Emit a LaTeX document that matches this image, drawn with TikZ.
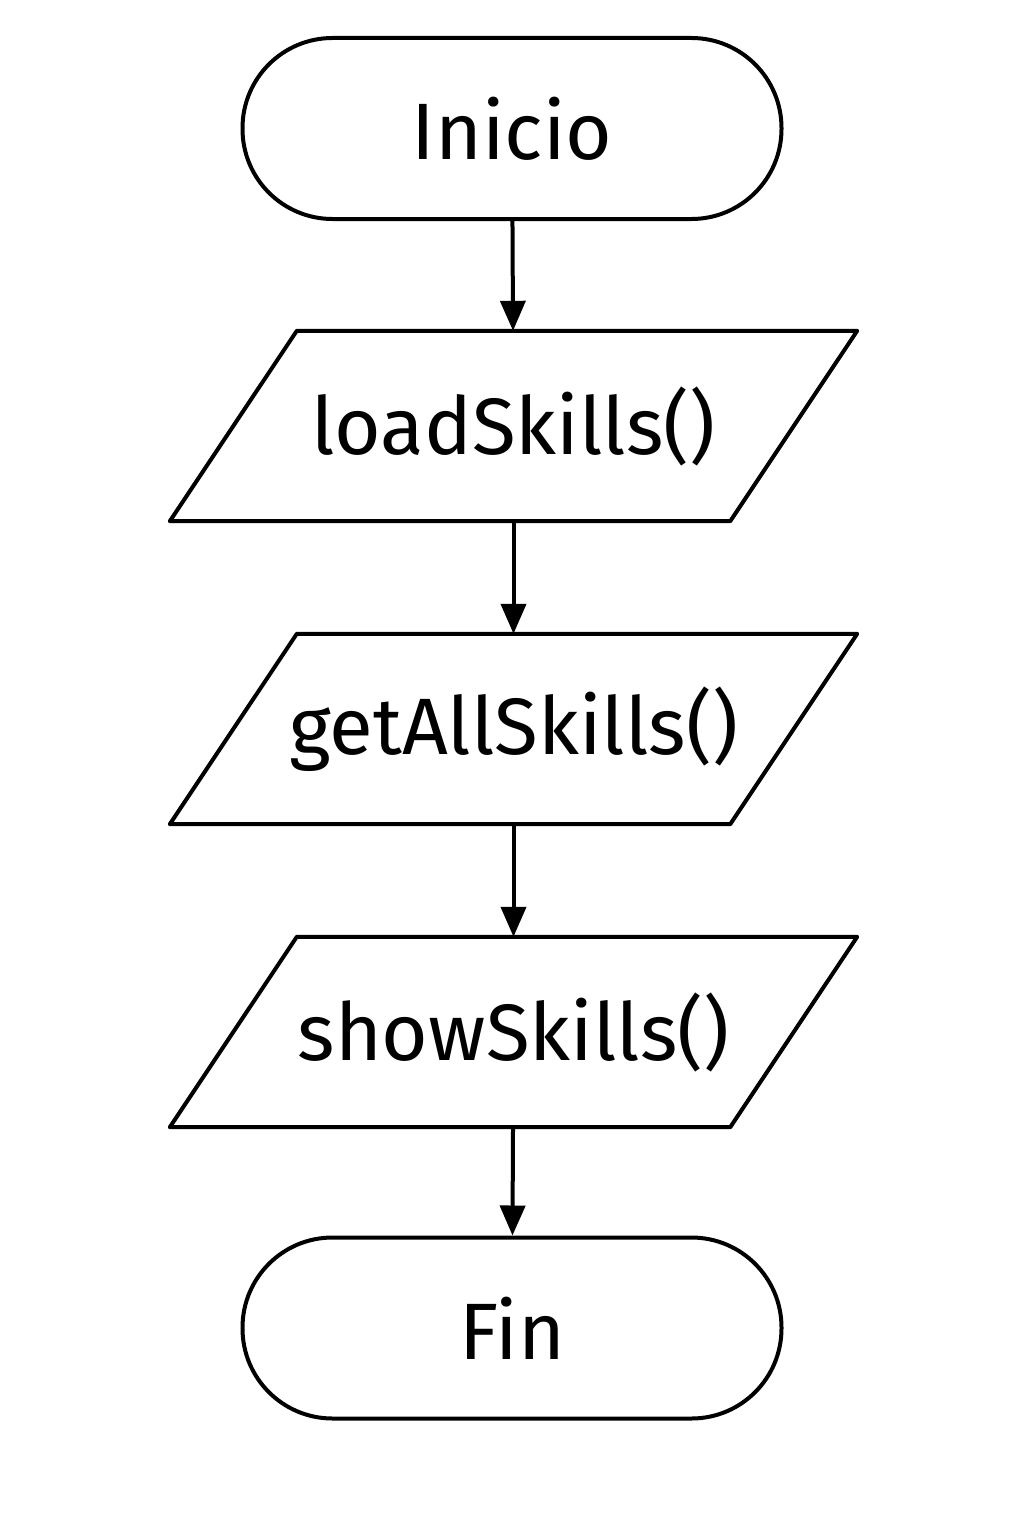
\documentclass[tikz,border=0pt]{standalone}
\usepackage{fontspec}
\setmainfont{Fira Sans}
\usepackage{tikz}
\usetikzlibrary{arrows.meta}
\tikzstyle{terminal}=[rectangle, draw, line width=4pt, rounded corners=90pt, minimum width=539pt, minimum height=181pt, font=\fontsize{80}{90}\selectfont]
\tikzstyle{io}=[rectangle, minimum width=560pt, minimum height=190pt, inner sep=0pt, font=\fontsize{80}{90}\selectfont]
\tikzstyle{outline}=[line width=4pt, line join=round]
\tikzstyle{flow}=[line width=4pt, -{Triangle[length=30pt,width=25pt]}]

\begin{document}
\begin{tikzpicture}[x=1pt,y=1pt]
				\useasboundingbox (0,0) rectangle (1024,-1536);
				\node[terminal] (start) at (512,-128.5) {Inicio};
				\node[io] (load) at (513.5,-426) {loadSkills()};
				\node[io] (getall) at (513.5,-729) {getAllSkills()};
				\node[io] (show) at (513.5,-1032) {showSkills()};
				\node[terminal] (stop) at (512,-1328) {Fin};
				
				% slanted sides of the input/output boxes
				\foreach \n in {load,getall,show}
				\draw[outline] ([xshift=63.5pt]\n.north west) -- ([xshift=63.5pt]\n.north east) -- ([xshift=-63.5pt]\n.south east) -- ([xshift=-63.5pt]\n.south west) -- cycle;
				
				\draw[flow] (start) to (load);
				\draw[flow] (load) to (getall);
				\draw[flow] (getall) to (show);
				\draw[flow] (show) to (stop);
			\end{tikzpicture}
\end{document}
